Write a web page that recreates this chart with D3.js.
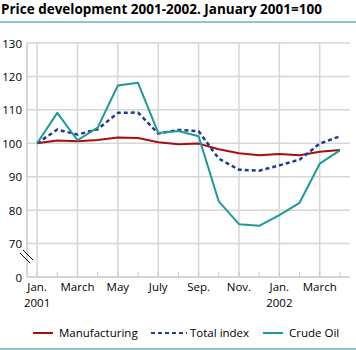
<!DOCTYPE html>
<html>
<head>
<meta charset="utf-8">
<script src="https://cdn.jsdelivr.net/npm/d3@7"></script>
<style>
  body { margin: 0; background: #fff; }
  svg { display: block; font-family: "Open Sans", sans-serif; }
</style>
</head>
<body>
<svg id="chart"></svg>
<script>
const { log } = console;

// Data
const months = ["2001-01", "2001-02", "2001-03", "2001-04", "2001-05", "2001-06", "2001-07", "2001-08",
  "2001-09", "2001-10", "2001-11", "2001-12", "2002-01", "2002-02", "2002-03", "2002-04"];
const manufacturing = [100, 100.8, 100.6, 101, 101.7, 101.6, 100.3, 99.7, 99.9, 98.2, 97, 96.4, 96.8, 96.4, 97.5, 98];
const totalIndex = [100, 104.1, 102.6, 104.2, 109.1, 109.2, 102.9, 104, 103.6, 95.4, 92.1, 91.8, 93.4, 95.1, 99.9, 102.1];
const crudeOil = [100, 109.1, 100.9, 104.7, 117.3, 118.1, 103.1, 103.7, 102.1, 82.6, 75.8, 75.3, 78.5, 82.2, 93.9, 97.9];
const yTicks = [70, 80, 90, 100, 110, 120, 130];
const xLabels = [
  { m: "2001-01", l1: "Jan.", l2: "2001" },
  { m: "2001-03", l1: "March" },
  { m: "2001-05", l1: "May" },
  { m: "2001-07", l1: "July" },
  { m: "2001-09", l1: "Sep." },
  { m: "2001-11", l1: "Nov." },
  { m: "2002-01", l1: "Jan.", l2: "2002" },
  { m: "2002-03", l1: "March" }
];
const series = [
  { name: "Manufacturing", values: manufacturing, color: "#a3100f", dash: null },
  { name: "Total index", values: totalIndex, color: "#1f3a93", dash: "4,3" },
  { name: "Crude Oil", values: crudeOil, color: "#1d9a97", dash: null }
];

// Sizes
const W = 356, H = 350;
const margin = { l: 27, r: 6, t: 43, b: 73 };
const fs = 11.5;

const svg = d3.select("#chart").attr("width", W).attr("height", H);

// Title
svg.append("text")
  .attr("x", 1).attr("y", 14)
  .attr("font-size", 13.5).attr("font-weight", "bold")
  .attr("fill", "#000")
  .text("Price development 2001-2002. January 2001=100");

svg.append("line")
  .attr("x1", 0).attr("x2", W).attr("y1", 22).attr("y2", 22)
  .attr("stroke", "#86cbc9").attr("stroke-width", 2);

svg.append("line")
  .attr("x1", 0).attr("x2", W).attr("y1", 349).attr("y2", 349)
  .attr("stroke", "#86cbc9").attr("stroke-width", 2);

// Scales
const xScale = d3.scaleBand()
  .domain(months)
  .range([margin.l, W - margin.r]);
const xc = m => xScale(m) + xScale.bandwidth() / 2;

const yScale = d3.scaleLinear()
  .domain([60, 130])
  .range([H - margin.b, margin.t]);

const gridColor = "#d6d6d6";

// Horizontal grid
svg.append("g")
  .selectAll("line")
  .data(yTicks)
  .join("line")
    .attr("x1", margin.l).attr("x2", W - margin.r)
    .attr("y1", d => yScale(d)).attr("y2", d => yScale(d))
    .attr("stroke", gridColor).attr("stroke-width", 1.5);

// Vertical grid (every other month)
svg.append("g")
  .selectAll("line")
  .data(months.filter((m, i) => i % 2 === 0))
  .join("line")
    .attr("x1", xc).attr("x2", xc)
    .attr("y1", yScale(130)).attr("y2", yScale(60))
    .attr("stroke", gridColor).attr("stroke-width", 1.5);

// Axes lines
svg.append("line")
  .attr("x1", margin.l).attr("x2", margin.l)
  .attr("y1", yScale(130)).attr("y2", yScale(60))
  .attr("stroke", "#c8c8c8").attr("stroke-width", 1.5);
svg.append("line")
  .attr("x1", margin.l).attr("x2", W - margin.r)
  .attr("y1", yScale(60)).attr("y2", yScale(60))
  .attr("stroke", "#c8c8c8").attr("stroke-width", 1.5);

// Small month ticks
svg.append("g")
  .selectAll("line")
  .data(months)
  .join("line")
    .attr("x1", xc).attr("x2", xc)
    .attr("y1", yScale(60)).attr("y2", yScale(60) - 5)
    .attr("stroke", "#c8c8c8").attr("stroke-width", 1);

// Y labels
svg.append("g")
  .selectAll("text")
  .data(yTicks)
  .join("text")
    .attr("x", 22).attr("y", d => yScale(d) + 4.5)
    .attr("text-anchor", "end").attr("font-size", fs)
    .text(d => d);
svg.append("text")
  .attr("x", 22).attr("y", yScale(60) + 4.5)
  .attr("text-anchor", "end").attr("font-size", fs)
  .text("0");

// Axis break
[0, 3].forEach(o => {
  svg.append("line")
    .attr("x1", 20 + o).attr("y1", 253 - o)
    .attr("x2", 30 + o).attr("y2", 263 - o)
    .attr("stroke", "#000").attr("stroke-width", 1);
});

// X labels
const xl = svg.append("g").attr("font-size", fs).attr("text-anchor", "middle");
xLabels.forEach(d => {
  xl.append("text").attr("x", xc(d.m)).attr("y", 291).text(d.l1);
  if (d.l2) xl.append("text").attr("x", xc(d.m)).attr("y", 307).text(d.l2);
});

// Lines
const line = d3.line()
  .x((d, i) => xc(months[i]))
  .y(d => yScale(d));

svg.append("g")
  .selectAll("path")
  .data(series)
  .join("path")
    .attr("d", d => line(d.values))
    .attr("fill", "none")
    .attr("stroke", d => d.color)
    .attr("stroke-width", d => d.dash ? 2.5 : 2)
    .attr("stroke-dasharray", d => d.dash)
    .attr("stroke-linejoin", "round");

// Legend
const legendPos = [
  { x1: 33, x2: 53, tx: 59 },
  { x1: 151, x2: 187, tx: 190 },
  { x1: 263, x2: 283, tx: 289 }
];
series.forEach((s, i) => {
  const p = legendPos[i];
  svg.append("line")
    .attr("x1", p.x1).attr("x2", p.x2).attr("y1", 333).attr("y2", 333)
    .attr("stroke", s.color).attr("stroke-width", 2)
    .attr("stroke-dasharray", s.dash ? "4,3" : null);
  svg.append("text")
    .attr("x", p.tx).attr("y", 337)
    .attr("font-size", fs)
    .text(s.name);
});
</script>
</body>
</html>
